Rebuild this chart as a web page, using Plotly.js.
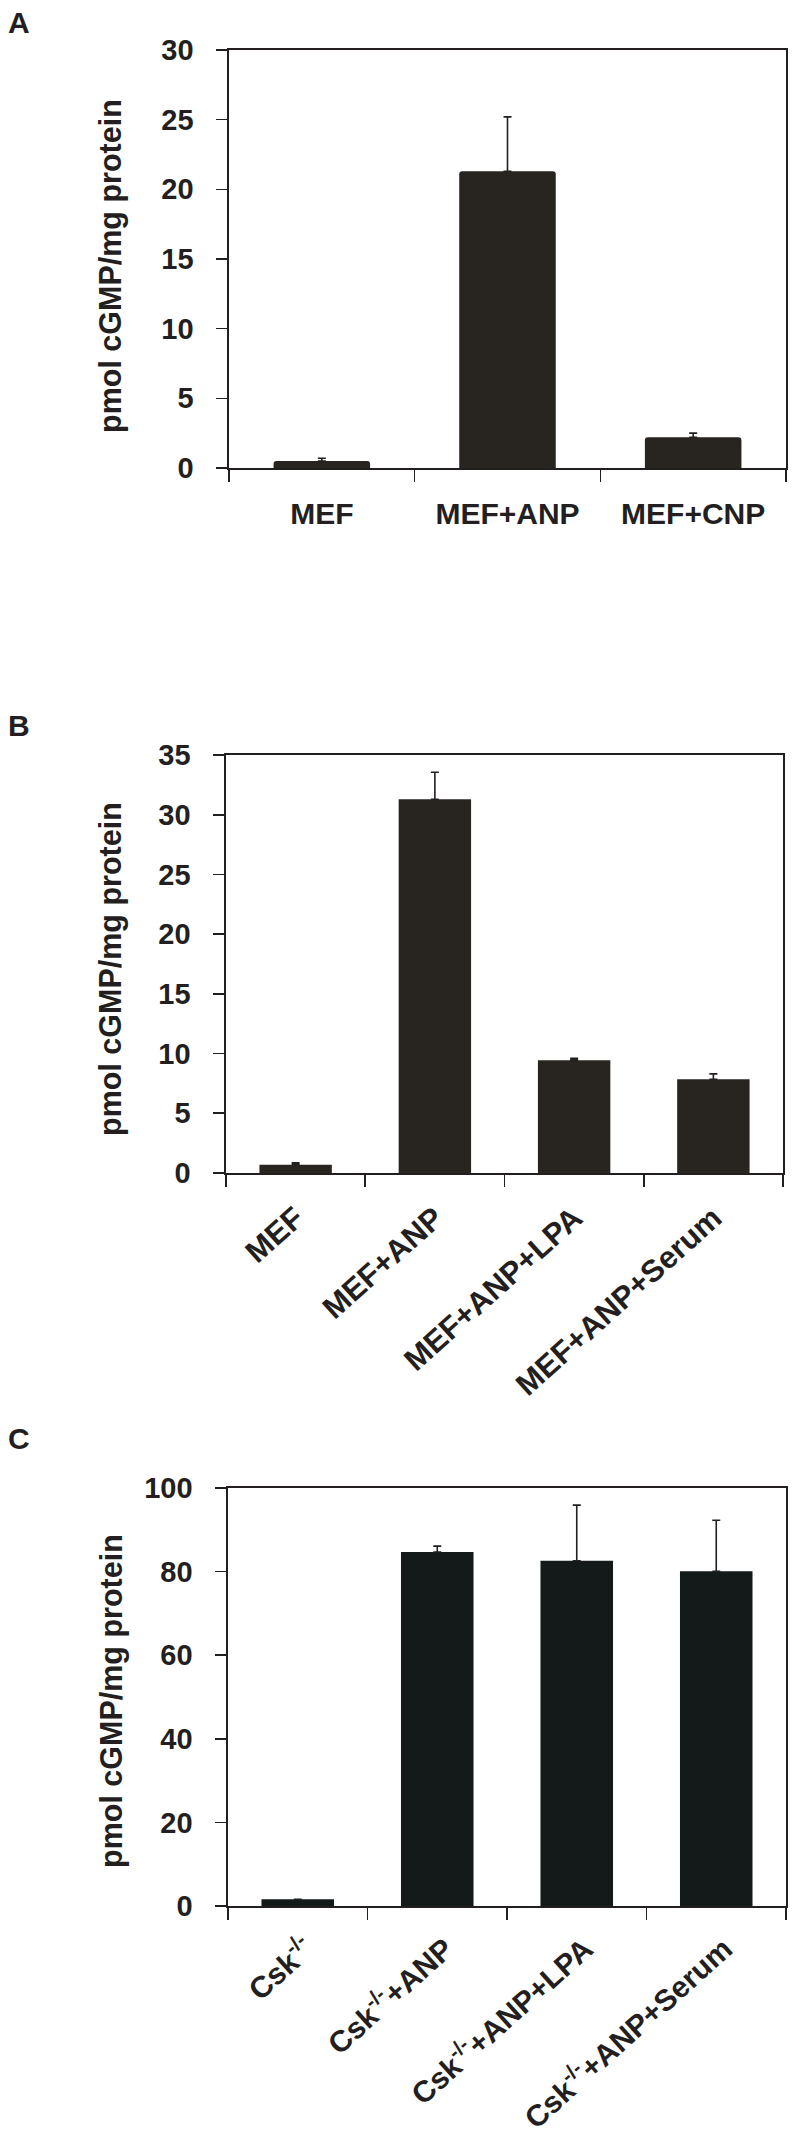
<!DOCTYPE html>
<html>
<head>
<meta charset="utf-8">
<script src="https://cdn.plot.ly/plotly-3.0.1.min.js"></script>
<style>
  body { margin: 0; padding: 0; background: #ffffff; }
  #myPlot { width: 800px; height: 2144px; }
</style>
</head>
<body>
<div id="myPlot"></div>
<script>
// panel A
var catsA = ['MEF', 'MEF+ANP', 'MEF+CNP'];
var valsA = [0.5, 21.3, 2.2];
var errA = [0.2, 3.9, 0.3];

// panel B
var catsB = ['MEF', 'MEF+ANP', 'MEF+ANP+LPA', 'MEF+ANP+Serum'];
var valsB = [0.7, 31.3, 9.45, 7.85];
var errB = [0.15, 2.25, 0.15, 0.45];

// panel C
var catsC = ['Csk<sup>-/-</sup>', 'Csk<sup>-/-</sup>+ANP', 'Csk<sup>-/-</sup>+ANP+LPA', 'Csk<sup>-/-</sup>+ANP+Serum'];
var valsC = [1.6, 84.7, 82.6, 80.1];
var errC = [0, 1.4, 13.3, 12.2];

var yTitle = 'pmol cGMP/mg protein';
var ink = '#231f20';
var fam = '"Liberation Sans", Arial, Helvetica, sans-serif';

function zeros(n){
	var z = [];
	for(var i = 0; i < n; i++){ z.push(0); }
	return z;
}

function barTrace(cats, vals, errs, xa, ya, col, rad){
	return {
		x: cats,
		y: vals,
		type: 'bar',
		xaxis: xa,
		yaxis: ya,
		marker: {color: col, line: {width: 0}, cornerradius: rad},
		error_y: {
			type: 'data',
			symmetric: false,
			array: errs,
			arrayminus: zeros(errs.length),
			color: ink,
			thickness: 1.6,
			width: 4,
		},
		showlegend: false,
		hoverinfo: 'x+y',
	};
}

function xAxis(dom, anchor, angle, stand, shift, fsize){
	return {
		domain: dom,
		anchor: anchor,
		type: 'category',
		showline: true,
		mirror: true,
		linecolor: ink,
		linewidth: 1.6,
		ticks: 'outside',
		tickson: 'boundaries',
		ticklen: 12,
		tickwidth: 1.6,
		tickcolor: ink,
		tickangle: angle,
		ticklabelstandoff: stand,
		ticklabelshift: shift,
		showgrid: false,
		zeroline: false,
		tickfont: {family: fam, size: fsize, weight: 'bold', color: ink},
	};
}

function yAxis(dom, anchor, top, step){
	return {
		domain: dom,
		anchor: anchor,
		range: [0, top],
		tick0: 0,
		dtick: step,
		showline: true,
		mirror: true,
		linecolor: ink,
		linewidth: 1.6,
		ticks: 'outside',
		ticklen: 11,
		tickwidth: 1.6,
		tickcolor: ink,
		ticklabelstandoff: 17,
		showgrid: false,
		zeroline: false,
		tickfont: {family: fam, size: 29, weight: 'bold', color: ink},
	};
}

var H = 2144, W = 800;
function py(px){ return 1 - px / H; }

var traceArray = [
	barTrace(catsA, valsA, errA, 'x', 'y', '#282420', 3),
	barTrace(catsB, valsB, errB, 'x2', 'y2', '#282420', 0),
	barTrace(catsC, valsC, errC, 'x3', 'y3', '#141a19', 0),
];

var annots = [];
var panelTxt = ['A', 'B', 'C'];
var panelY = [23, 725, 1438];
var titleY = [266, 969, 1701];
for(var i = 0; i < 3; i++){
	annots.push({
		text: panelTxt[i], xref: 'paper', yref: 'paper',
		x: 6 / W, y: py(panelY[i]), xanchor: 'left', yanchor: 'middle',
		showarrow: false,
		font: {family: fam, size: 30, weight: 'bold', color: ink},
	});
	annots.push({
		text: yTitle, xref: 'paper', yref: 'paper',
		x: 111 / W, y: py(titleY[i]), xanchor: 'center', yanchor: 'middle',
		textangle: -90, showarrow: false,
		font: {family: fam, size: 30.5, weight: 'bold', color: ink},
	});
}

var plotLayout = {
	width: W,
	height: H,
	margin: {l: 0, r: 0, t: 0, b: 0},
	paper_bgcolor: '#ffffff',
	plot_bgcolor: '#ffffff',
	bargap: 0.48,
	xaxis: xAxis([229 / W, 786 / W], 'y', 0, 18, 0, 30),
	yaxis: yAxis([py(468), py(50)], 'x', 30, 5),
	xaxis2: xAxis([226 / W, 783 / W], 'y2', -42, 13, 0, 31),
	yaxis2: yAxis([py(1173), py(755)], 'x2', 35, 5),
	xaxis3: xAxis([228 / W, 786 / W], 'y3', -42, 12, 8, 30),
	yaxis3: yAxis([py(1906), py(1488)], 'x3', 100, 20),
	annotations: annots,
	showlegend: false,
};

var myPlot = document.getElementById('myPlot');
Plotly.newPlot(myPlot, traceArray, plotLayout, {displayModeBar: false, staticPlot: true});
</script>
</body>
</html>
